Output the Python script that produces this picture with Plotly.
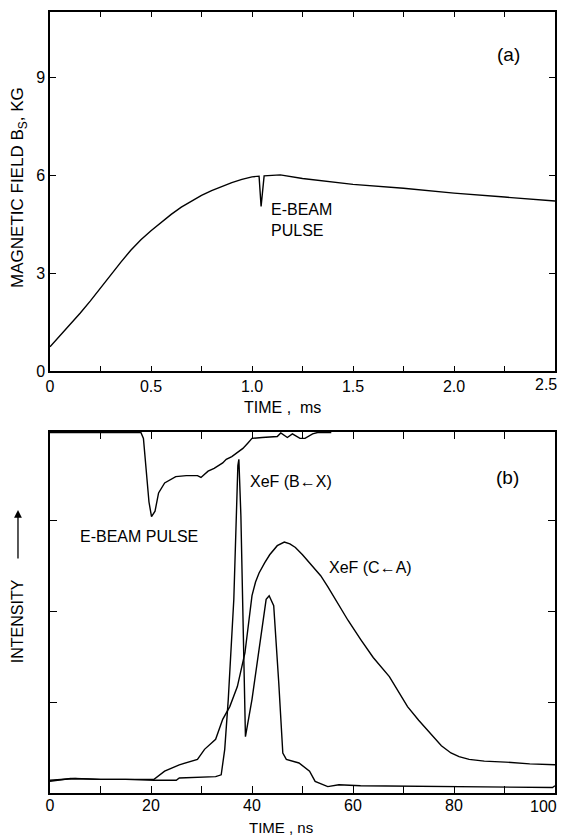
import plotly.graph_objects as go

# ---- Panel (a): magnetic field vs time (ms)
t_ms = [0.0, 0.05, 0.1, 0.15, 0.2, 0.25, 0.3, 0.35, 0.4, 0.45, 0.5, 0.55, 0.6, 0.65, 0.7, 0.75,
        0.8, 0.85, 0.9, 0.95, 1.0, 1.035, 1.045, 1.06, 1.1, 1.14, 1.25, 1.5, 1.75, 2.0, 2.25, 2.5]
b_kg = [0.74, 1.08, 1.42, 1.78, 2.15, 2.55, 2.95, 3.33, 3.7, 4.02, 4.3, 4.56, 4.8, 5.02, 5.21, 5.38,
        5.53, 5.66, 5.77, 5.87, 5.95, 5.97, 5.04, 5.98, 6.0, 6.01, 5.9, 5.72, 5.6, 5.45, 5.33, 5.21]

# ---- Panel (b): intensities vs time (ns)
t_ebeam = [0, 10, 18.0, 18.5, 19.0, 19.6, 20.1, 20.8, 21.5, 22.7, 24.9, 27.0, 29.2, 29.9, 31.3,
           32.5, 34.2, 34.9, 36.0, 37.1, 38.2, 39.2, 40.0, 42.0, 45.0, 45.7, 47.0, 48.0, 49.5,
           50.5, 52.0, 53.0, 55.7]
i_ebeam = [3.965, 3.965, 3.965, 3.9, 3.6, 3.2, 3.04, 3.1, 3.3, 3.41, 3.48, 3.49, 3.49, 3.47, 3.54,
           3.57, 3.63, 3.67, 3.7, 3.75, 3.79, 3.85, 3.9, 3.91, 3.92, 3.96, 3.91, 3.95, 3.9,
           3.9, 3.95, 3.965, 3.965]

t_bx = [0, 4.1, 10, 15, 20.6, 25.0, 25.6, 30, 32.8, 33.9, 34.6, 35.3, 36.4, 37.2, 37.4, 37.8,
        38.2, 38.7, 40.0, 41.4, 42.8, 43.4, 44.3, 45.3, 46.1, 46.8, 49.3, 51.4, 52.5, 55.0, 57.2,
        61.5, 75.8, 90.2, 99.5, 100]
i_bx = [0.13, 0.16, 0.15, 0.15, 0.14, 0.14, 0.165, 0.17, 0.18, 0.2, 0.48, 1.03, 2.13, 3.6, 3.67, 3.05,
        1.76, 0.62, 1.03, 1.58, 2.13, 2.17, 2.06, 1.21, 0.44, 0.37, 0.33, 0.24, 0.128, 0.07, 0.09,
        0.08, 0.07, 0.06, 0.06, 0.08]

t_ca = [0, 5, 10, 15, 20.6, 22.7, 25.6, 29.2, 30.6, 32.8, 34.2, 35.6, 37.1, 38.6, 40.0, 40.7,
        41.4, 42.5, 43.5, 45.0, 46.4, 47.5, 48.6, 50.0, 51.4, 53.6, 55.0, 56.5, 59.0, 61.5, 64.0,
        67.2, 69.0, 70.8, 73.0, 75.8, 77.5, 79.4, 81.0, 83.0, 86.0, 90.2, 95.0, 100]
i_ca = [0.14, 0.16, 0.15, 0.15, 0.15, 0.24, 0.31, 0.37, 0.48, 0.59, 0.81, 0.95, 1.17, 1.54, 2.17, 2.32,
        2.42, 2.53, 2.62, 2.72, 2.76, 2.74, 2.70, 2.62, 2.53, 2.39, 2.27, 2.13, 1.90, 1.69, 1.49,
        1.28, 1.12, 0.95, 0.80, 0.62, 0.52, 0.44, 0.40, 0.37, 0.35, 0.34, 0.32, 0.31]

# tick labels
a_xticks = [0, 0.25, 0.5, 0.75, 1.0, 1.25, 1.5, 1.75, 2.0, 2.25, 2.5]
a_xlabels = ["0", "", "0.5", "", "1.0", "", "1.5", "", "2.0", "", "2.5"]
a_yticks = [0, 3, 6, 9]
a_ylabels = ["0", "3", "6", "9"]
b_xticks = [0, 10, 20, 30, 40, 50, 60, 70, 80, 90, 100]
b_xlabels = ["0", "", "20", "", "40", "", "60", "", "80", "", "100"]
b_yticks = [1, 2, 3]

FONT = "Liberation Sans"
line = dict(color="black", width=1.4)

fig = go.Figure()
fig.add_trace(go.Scatter(x=t_ms, y=b_kg, mode="lines", line=line, xaxis="x", yaxis="y"))
fig.add_trace(go.Scatter(x=t_ebeam, y=i_ebeam, mode="lines", line=line, xaxis="x2", yaxis="y2"))
fig.add_trace(go.Scatter(x=t_bx, y=i_bx, mode="lines", line=line, xaxis="x2", yaxis="y2"))
fig.add_trace(go.Scatter(x=t_ca, y=i_ca, mode="lines", line=line, xaxis="x2", yaxis="y2"))

axis_common = dict(showline=True, linecolor="black", linewidth=1.5, mirror="ticks",
                   ticks="inside", tickcolor="black", tickwidth=1.3, showgrid=False,
                   zeroline=False, automargin=False, ticklabeloverflow="allow",
                   tickfont=dict(family=FONT, size=16, color="black"))

# The page body adds an 8 px offset; the figure is sized to fit the window.
fig.update_layout(
    width=558, height=828,
    margin=dict(l=42, r=11, t=4, b=43, autoexpand=False),
    paper_bgcolor="white", plot_bgcolor="white",
    showlegend=False,
    font=dict(family=FONT, size=16, color="black"),
    xaxis=dict(domain=[0, 1], anchor="y", range=[0, 2.5], tickmode="array",
               tickvals=a_xticks, ticktext=a_xlabels[:-1] + [""], ticklen=5, **axis_common),
    yaxis=dict(domain=[0.5403, 1.0], anchor="x", range=[0, 11], tickmode="array",
               tickvals=a_yticks, ticktext=a_ylabels, ticklen=6, **axis_common),
    xaxis2=dict(domain=[0, 1], anchor="y2", range=[0, 100], tickmode="array",
                tickvals=b_xticks, ticktext=b_xlabels[:-1] + [""], ticklen=7, ticklabelstandoff=-3,
                **axis_common),
    yaxis2=dict(domain=[0, 0.4622], anchor="x2", range=[0, 3.97], tickmode="array",
                tickvals=b_yticks, ticktext=["", "", ""], ticklen=7, **axis_common),
)

ann_font = dict(family=FONT, size=16, color="black")
C = dict(xanchor="center", yanchor="middle", showarrow=False)
annotations = [
    # last tick labels, right-aligned so they stay inside the visible page
    dict(text=a_xlabels[-1], x=a_xticks[-1], y=0, xref="x", yref="y", xanchor="right",
         yanchor="middle", xshift=4, yshift=-13, showarrow=False, font=ann_font),
    dict(text=b_xlabels[-1], x=b_xticks[-1], y=0, xref="x2", yref="y2", xanchor="right",
         yanchor="middle", xshift=4, yshift=-13, showarrow=False, font=ann_font),
    dict(text="(a)", x=2.27, y=9.7, xref="x", yref="y", font=dict(family=FONT, size=19), **C),
    dict(text="E-BEAM<br>PULSE", x=1.086, y=4.63, xref="x", yref="y", xanchor="left",
         yanchor="middle", align="left", showarrow=False, font=ann_font),
    dict(text="(b)", x=90.5, y=3.47, xref="x2", yref="y2", font=dict(family=FONT, size=19), **C),
    dict(text="XeF (B←X)", x=39.3, y=3.43, xref="x2", yref="y2", xanchor="left", yanchor="middle",
         showarrow=False, font=ann_font),
    dict(text="XeF (C←A)", x=54.8, y=2.48, xref="x2", yref="y2", xanchor="left", yanchor="middle",
         showarrow=False, font=ann_font),
    dict(text="E-BEAM PULSE", x=5.6, y=2.82, xref="x2", yref="y2", xanchor="left", yanchor="middle",
         showarrow=False, font=ann_font),
    dict(text="TIME ,  ms", x=0.461, y=0.494, xref="paper", yref="paper", font=ann_font, **C),
    dict(text="TIME , ns", x=0.457, y=-34 / 781, xref="paper", yref="paper",
         font=dict(family=FONT, size=15, color="black"), **C),
    dict(text="MAGNETIC FIELD B<sub>S</sub>, KG", x=-0.0614, y=0.776, xref="paper", yref="paper",
         textangle=-90, font=dict(family=FONT, size=17, color="black"), **C),
    dict(text="INTENSITY", x=-0.0653, y=0.220, xref="paper", yref="paper",
         textangle=-90, font=ann_font, **C),
    dict(text="", x=-0.0634, y=(793 - 510) / 781, xref="paper", yref="paper", ax=0, ay=50,
         showarrow=True, arrowhead=2, arrowsize=1.2, arrowwidth=1.3, arrowcolor="black"),
]
fig.update_layout(annotations=annotations)

fig.write_html("out.html")
